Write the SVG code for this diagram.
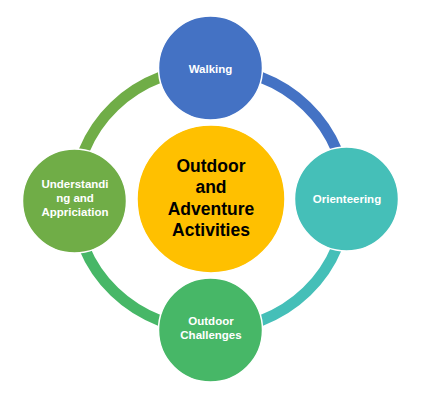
<svg xmlns="http://www.w3.org/2000/svg" width="439" height="400" viewBox="0 0 439 400">
<style>
.arc{fill:none;stroke-width:11}
.node{stroke:#ffffff;stroke-width:1.5}
.lbl{font-family:"Liberation Sans",Arial,sans-serif;font-weight:bold;fill:#ffffff;text-anchor:middle;font-size:11.5px}
.ctr{font-family:"Liberation Sans",Arial,sans-serif;font-weight:bold;fill:#000000;text-anchor:middle;font-size:17.5px}
</style>
<rect width="439" height="400" fill="#ffffff"/>
<g id="connectors">
<path class="arc" stroke="#4472C4" d="M210.5,68 A136,131 0 0 1 346.5,199"/>
<path class="arc" stroke="#45BFB8" d="M346.5,199 A136,131 0 0 1 210.5,330"/>
<path class="arc" stroke="#47B767" d="M210.5,330 A136,131 0 0 1 74.5,199"/>
<path class="arc" stroke="#70AD47" d="M74.5,199 A136,131 0 0 1 210.5,68"/>
</g>
<g id="center">
<circle cx="211" cy="199" r="74" fill="#FFC000" stroke="#ffffff" stroke-width="1.5"/>
<text class="ctr" x="211" y="171.5">Outdoor</text>
<text class="ctr" x="211" y="193">and</text>
<text class="ctr" x="211" y="214.5">Adventure</text>
<text class="ctr" x="211" y="236">Activities</text>
</g>
<g id="walking">
<circle class="node" cx="210.5" cy="68" r="52" fill="#4472C4"/>
<text class="lbl" x="210.5" y="73">Walking</text>
</g>
<g id="orienteering">
<circle class="node" cx="346.5" cy="199" r="52" fill="#45BFB8"/>
<text class="lbl" x="347" y="203">Orienteering</text>
</g>
<g id="challenges">
<circle class="node" cx="210.5" cy="330" r="52" fill="#47B767"/>
<text class="lbl" x="211" y="325">Outdoor</text>
<text class="lbl" x="211" y="339">Challenges</text>
</g>
<g id="understanding">
<circle class="node" cx="74.5" cy="201" r="52" fill="#70AD47"/>
<text class="lbl" x="75" y="188">Understandi</text>
<text class="lbl" x="75" y="202">ng and</text>
<text class="lbl" x="75" y="216">Appriciation</text>
</g>
</svg>
